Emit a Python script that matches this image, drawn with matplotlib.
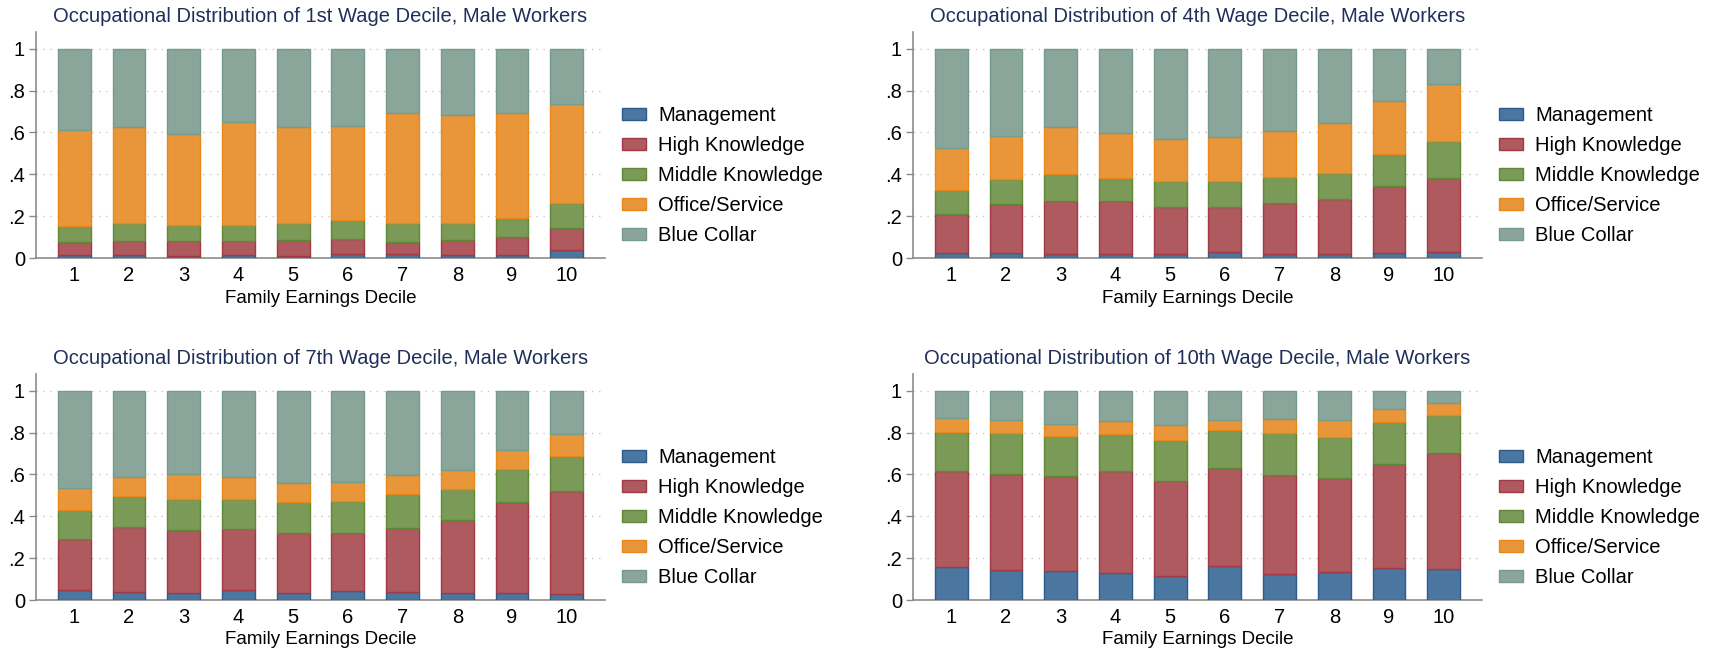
import numpy as np
import matplotlib.pyplot as plt

plt.rcParams['font.family'] = ['Liberation Sans', 'DejaVu Sans']

# categories / labels
deciles = np.arange(1, 11)
occupations = ['Management', 'High Knowledge', 'Middle Knowledge', 'Office/Service', 'Blue Collar']
titles = ['Occupational Distribution of 1st Wage Decile, Male Workers',
          'Occupational Distribution of 4th Wage Decile, Male Workers',
          'Occupational Distribution of 7th Wage Decile, Male Workers',
          'Occupational Distribution of 10th Wage Decile, Male Workers']
yticks = [0, 0.2, 0.4, 0.6, 0.8, 1]
yticklabels = ['0', '.2', '.4', '.6', '.8', '1']

# shares by occupation
# 1st wage decile
mgmt_1 = [.013, .016, .010, .013, .011, .018, .018, .013, .016, .040]
high_1 = [.064, .065, .071, .068, .077, .073, .059, .075, .083, .105]
mid_1 = [.076, .087, .076, .076, .077, .089, .088, .080, .094, .119]
office_1 = [.459, .457, .437, .495, .463, .449, .530, .516, .502, .471]
blue_1 = [.388, .375, .406, .348, .372, .371, .305, .316, .305, .265]

# 4th wage decile
mgmt_4 = [.024, .024, .019, .019, .019, .029, .019, .019, .022, .029]
high_4 = [.184, .233, .254, .253, .224, .214, .243, .262, .323, .354]
mid_4 = [.119, .120, .128, .108, .124, .123, .125, .125, .152, .178]
office_4 = [.200, .208, .227, .216, .202, .211, .220, .239, .252, .270]
blue_4 = [.473, .415, .372, .404, .431, .423, .393, .355, .251, .169]

# 7th wage decile
mgmt_7 = [.046, .037, .035, .046, .035, .045, .040, .035, .035, .030]
high_7 = [.246, .312, .300, .295, .287, .276, .304, .348, .432, .492]
mid_7 = [.139, .149, .150, .142, .147, .153, .162, .148, .160, .165]
office_7 = [.105, .092, .116, .107, .092, .089, .092, .089, .091, .106]
blue_7 = [.464, .410, .399, .410, .439, .437, .402, .380, .282, .207]

# 10th wage decile
mgmt_10 = [.159, .142, .139, .128, .115, .163, .123, .134, .155, .150]
high_10 = [.458, .459, .454, .489, .454, .469, .475, .447, .494, .553]
mid_10 = [.187, .198, .190, .177, .197, .181, .201, .196, .203, .182]
office_10 = [.064, .061, .058, .062, .071, .047, .065, .083, .062, .056]
blue_10 = [.132, .140, .159, .144, .163, .140, .136, .140, .086, .059]

panels = [[mgmt_1, high_1, mid_1, office_1, blue_1],
          [mgmt_4, high_4, mid_4, office_4, blue_4],
          [mgmt_7, high_7, mid_7, office_7, blue_7],
          [mgmt_10, high_10, mid_10, office_10, blue_10]]

fills = ['#4a76a0', '#ae5a5f', '#7b9a58', '#e9963a', '#8aa59a']
edges = ['#2d5b8c', '#a13a45', '#5f8a35', '#e8891a', '#759b8d']

W, H = 1719, 654
fig = plt.figure(figsize=(W / 100, H / 100), dpi=100)

# axes boxes in pixels: left, top, right, bottom
boxes = [(36, 32, 605, 258), (913, 32, 1482, 258),
         (36, 374, 605, 600), (913, 374, 1482, 600)]

for i in range(4):
    l, t, r, b = boxes[i]
    ax = fig.add_axes([l / W, 1 - b / H, (r - l) / W, (b - t) / H])
    bottom = np.zeros(10)
    handles = []
    for k in range(5):
        vals = np.array(panels[i][k])
        h = ax.bar(deciles, vals, 0.6, bottom=bottom, color=fills[k],
                   edgecolor=edges[k], linewidth=1.0, zorder=3)
        handles.append(h)
        bottom = bottom + vals

    ax.set_xlim(0.3, 10.7)
    ax.set_ylim(0, 1.08)
    ax.set_xticks(deciles)
    ax.set_yticks(yticks)
    ax.set_yticklabels(yticklabels)
    ax.tick_params(axis='x', length=0, pad=6, labelsize=14.5)
    ax.tick_params(axis='y', length=5, width=1, color='#8c8c8c', pad=3, labelsize=14.5)
    ax.grid(axis='y', linestyle=(0, (1, 4)), color='#c8c8c8', linewidth=1, zorder=0)
    for s in ['top', 'right']:
        ax.spines[s].set_visible(False)
    ax.spines['left'].set_color('#8c8c8c')
    ax.spines['bottom'].set_color('#8c8c8c')
    ax.spines['left'].set_linewidth(1.2)
    ax.spines['bottom'].set_linewidth(1.2)
    ax.set_xlabel('Family Earnings Decile', fontsize=13.5, labelpad=3)
    ax.set_title(titles[i], fontsize=14.5, color='#1f2f5a', pad=7)

    leg = ax.legend(handles, occupations, loc='upper left',
                    bbox_to_anchor=((l + 576) / W, 1 - (t + 64) / H),
                    bbox_transform=fig.transFigure, frameon=False,
                    fontsize=14.5, handlelength=1.2, handleheight=0.5,
                    handletextpad=0.6, labelspacing=0.55, borderpad=0)

fig.savefig('out.png', dpi=100)
